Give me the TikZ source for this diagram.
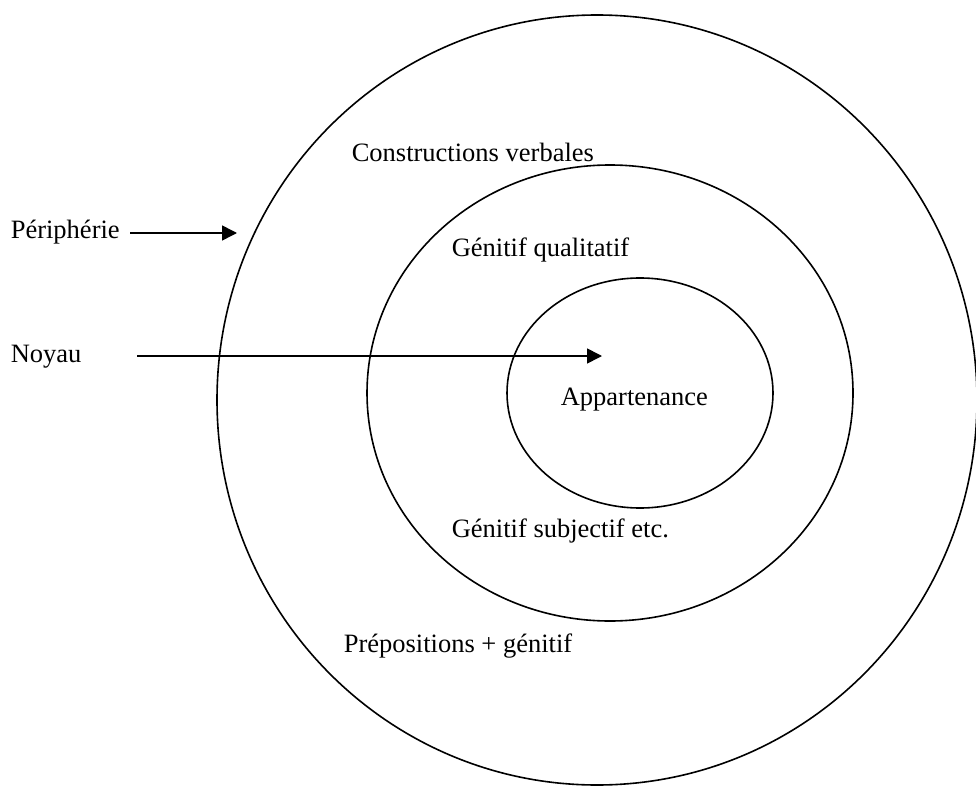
\documentclass[tikz,border=0pt]{standalone}
\usepackage{fontspec}
\setmainfont{Liberation Serif}
\usetikzlibrary{shapes.geometric,arrows.meta}
\begin{document}
\begin{tikzpicture}[x=1pt, y=-1pt, line width=1.6pt]
\tikzstyle{ring} = [ellipse, draw, inner sep=0pt]
\tikzstyle{label} = [anchor=base west, inner sep=0pt, font=\fontsize{26.5}{30}\selectfont]
\tikzstyle{line} = [draw, -{Triangle[length=15pt, width=15pt]}]

\useasboundingbox (0,0) rectangle (976,786);

\node [ring, minimum width=760pt, minimum height=770pt] (outer) at (597,400) {};
\node [ring, minimum width=486pt, minimum height=456pt] (middle) at (610,393) {};
\node [ring, minimum width=266pt, minimum height=230pt] (inner) at (640,393) {};

\node [label] (verbal) at (351,162) {Constructions verbales};
\node [label] (qualit) at (451,256) {Génitif qualitatif};
\node [label] (belong) at (560,405) {Appartenance};
\node [label] (subj) at (451,537) {Génitif subjectif etc.};
\node [label] (prep) at (343,652) {Prépositions + génitif};
\node [label] (peri) at (10,238) {Périphérie};
\node [label] (core) at (10,362) {Noyau};

\coordinate (periTail) at (130,233);
\coordinate (periTip) at (237,233);
\coordinate (coreTail) at (137,356);
\coordinate (coreTip) at (602,356);

\path [line] (periTail) -- (periTip);
\path [line] (coreTail) -- (coreTip);
\end{tikzpicture}
\end{document}
